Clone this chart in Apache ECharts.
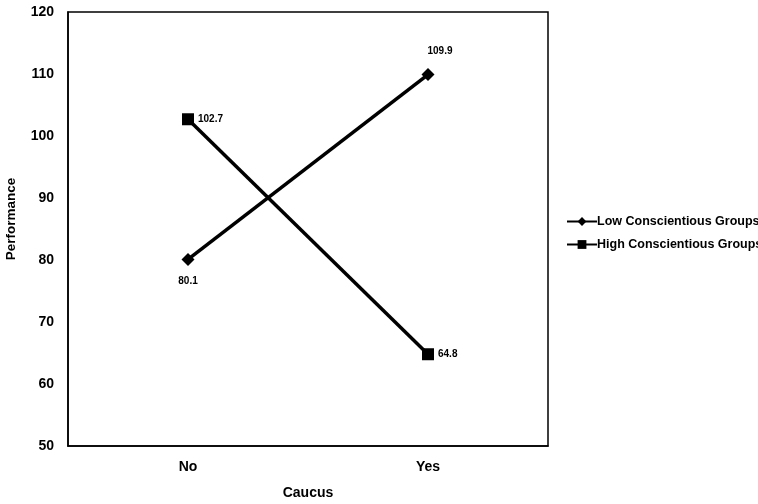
<!DOCTYPE html>
<html>
<head>
<meta charset="utf-8">
<script src="https://cdn.jsdelivr.net/npm/echarts@6/dist/echarts.min.js"></script>
<style>
  html, body { margin: 0; padding: 0; background: #fff; }
  #chart { width: 758px; height: 504px; }
</style>
</head>
<body>
<div id="chart"></div>
<script>
const categories = ["No", "Yes"];
const lowValues = [80.1, 109.9];
const highValues = [102.7, 64.8];
const yTicks = { min: 50, max: 120, step: 10 };

const chart = echarts.init(document.getElementById("chart"), null, { renderer: "canvas" });

const font = "Liberation Sans, Arial, sans-serif";

chart.setOption({
  backgroundColor: "#ffffff",
  animation: false,
  grid: {
    left: 68, right: 210, top: 12, bottom: 58,
    outerBoundsMode: "none", containLabel: false,
    show: true, borderColor: "#000", borderWidth: 1.5
  },
  xAxis: {
    type: "category",
    data: categories,
    name: "Caucus",
    nameLocation: "middle",
    nameGap: 40,
    nameTextStyle: { color: "#000", fontSize: 14, fontWeight: "bold", fontFamily: font },
    axisLine: { lineStyle: { color: "#000", width: 1.5 } },
    axisTick: { show: false },
    axisLabel: { color: "#000", fontSize: 14, fontWeight: "bold", fontFamily: font, margin: 14 },
    splitLine: { show: false }
  },
  yAxis: {
    type: "value",
    min: yTicks.min,
    max: yTicks.max,
    interval: yTicks.step,
    name: "Performance",
    nameLocation: "middle",
    nameGap: 50,
    nameTextStyle: { color: "#000", fontSize: 13.5, fontWeight: "bold", fontFamily: font, padding: [0, 0, 0, 20] },
    axisLine: { show: true, lineStyle: { color: "#000", width: 1.5 } },
    axisTick: { show: false },
    axisLabel: { color: "#000", fontSize: 14, fontWeight: "bold", fontFamily: font, margin: 14 },
    splitLine: { show: false }
  },
  legend: {
    left: 561,
    top: 210,
    orient: "vertical",
    itemGap: 10,
    itemWidth: 30,
    itemHeight: 11,
    textStyle: { color: "#000", fontSize: 12.5, fontWeight: "bold", fontFamily: font, padding: [0, 0, 0, -5] },
    data: ["Low Conscientious Groups", "High Conscientious Groups"]
  },
  series: [
    {
      name: "Low Conscientious Groups",
      type: "line",
      data: lowValues.map((v, i) => ({
        value: v,
        label: i === 0
          ? { position: "bottom", distance: 10 }
          : { position: "top", distance: 12, offset: [12, 0] }
      })),
      symbol: "diamond",
      symbolSize: 13,
      lineStyle: { color: "#000", width: 3.5 },
      itemStyle: { color: "#000" },
      label: { show: true, color: "#000", fontSize: 10, fontWeight: "bold", fontFamily: font },
      z: 2
    },
    {
      name: "High Conscientious Groups",
      type: "line",
      data: highValues,
      symbol: "rect",
      symbolSize: 12,
      lineStyle: { color: "#000", width: 3.5 },
      itemStyle: { color: "#000" },
      label: { show: true, position: "right", distance: 4, color: "#000", fontSize: 10, fontWeight: "bold", fontFamily: font },
      z: 2
    }
  ]
});
</script>
</body>
</html>
